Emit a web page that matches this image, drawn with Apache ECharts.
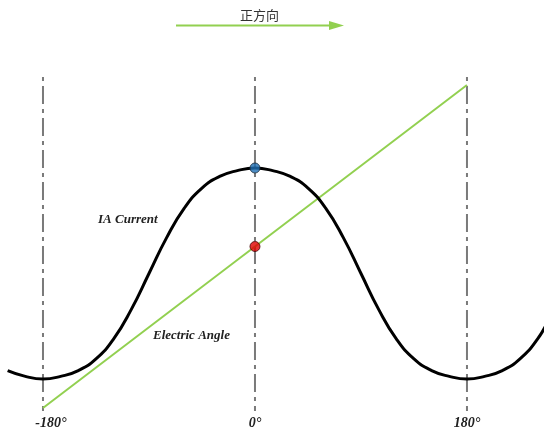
<!DOCTYPE html>
<html>
<head>
<meta charset="utf-8">
<script src="https://cdn.jsdelivr.net/npm/echarts@6/dist/echarts.min.js"></script>
<style>
  html, body { margin: 0; padding: 0; background: #fff; }
  #main { width: 544px; height: 432px; }
</style>
</head>
<body>
<div id="main"></div>
<script>
// angle (deg) and IA current
const angles = [-210, -195, -180, -165, -150, -135, -120, -105, -90, -75, -60, -45, -30, -15,
  0, 15, 30, 45, 60, 75, 90, 105, 120, 135, 150, 165, 180, 195, 210, 225, 240, 250];
const iaCurrent = [-0.92, -0.975, -1.0, -0.975, -0.92, -0.81, -0.62, -0.34, 0.0, 0.34, 0.62, 0.81, 0.92, 0.975,
  1.0, 0.975, 0.92, 0.81, 0.62, 0.34, 0.0, -0.34, -0.62, -0.81, -0.92, -0.975, -1.0, -0.975, -0.92, -0.81, -0.62, -0.42];

// electric angle ramp
const rampX = [-180, 180];
const rampY = [-1.275, 1.787];

// vertical guides and tick labels
const guideX = [-180, 0, 180];
const guideTop = 1.863;
const tickLabels = ['-180°', '0°', '180°'];

const peakPoint = [0, 1];
const crossPoint = [0, 0.256];

const yMin = -1.3033, yMax = 2.5924;

const green = '#92d050';
const serif = '"Liberation Serif", "Times New Roman", serif';

const chart = echarts.init(document.getElementById('main'));

const guideSeries = guideX.map(x => ({
  type: 'line',
  data: [[x, guideTop], [x, yMin]],
  showSymbol: false,
  silent: true,
  lineStyle: { color: '#7a7a7a', width: 2, type: [4, 5, 18, 5] },
  z: 1
}));

chart.setOption({
  animation: false,
  grid: { left: 0, right: 0, top: 0, bottom: 21 },
  xAxis: {
    type: 'value',
    min: -216.5,
    max: 245.4,
    axisLine: { show: false },
    axisTick: { show: false },
    splitLine: { show: false },
    axisLabel: {
      customValues: guideX,
      formatter: v => {
        const t = tickLabels[guideX.indexOf(v)];
        return v < 0 ? '{neg|' + t + '}' : t;
      },
      rich: {
        neg: {
          padding: [0, 0, 0, 16],
          fontFamily: serif, fontStyle: 'italic', fontWeight: 'bold', fontSize: 14, color: '#222'
        }
      },
      margin: 5,
      fontFamily: serif,
      fontStyle: 'italic',
      fontWeight: 'bold',
      fontSize: 14,
      color: '#222'
    }
  },
  yAxis: { type: 'value', min: yMin, max: yMax, show: false },
  graphic: [
    { type: 'text', left: 240, top: 9, style: { text: '正方向', font: '13px "Noto Sans CJK SC"', fill: '#333' } },
    { type: 'line', shape: { x1: 176, y1: 25.5, x2: 331, y2: 25.5 }, style: { stroke: green, lineWidth: 2 } },
    { type: 'polygon', shape: { points: [[329, 21], [344, 25.5], [329, 30]] }, style: { fill: green } },
    { type: 'text', left: 98, top: 213, style: { text: 'IA Current', font: 'italic bold 13px ' + serif, fill: '#222' } },
    { type: 'text', left: 153, top: 329, style: { text: 'Electric Angle', font: 'italic bold 13px ' + serif, fill: '#222' } }
  ],
  series: [
    ...guideSeries,
    {
      type: 'line',
      data: rampX.map((x, i) => [x, rampY[i]]),
      showSymbol: false,
      lineStyle: { color: green, width: 2 },
      z: 2
    },
    {
      type: 'line',
      data: angles.map((a, i) => [a, iaCurrent[i]]),
      smooth: true,
      showSymbol: false,
      lineStyle: { color: '#000', width: 3 },
      z: 3
    },
    {
      type: 'scatter',
      data: [peakPoint],
      symbolSize: 10,
      itemStyle: { color: '#1f6fb4', borderColor: '#1a2a3a', borderWidth: 1 },
      z: 4
    },
    {
      type: 'scatter',
      data: [crossPoint],
      symbolSize: 10,
      itemStyle: { color: '#e00000', borderColor: '#400', borderWidth: 1 },
      z: 4
    }
  ]
});
</script>
</body>
</html>
